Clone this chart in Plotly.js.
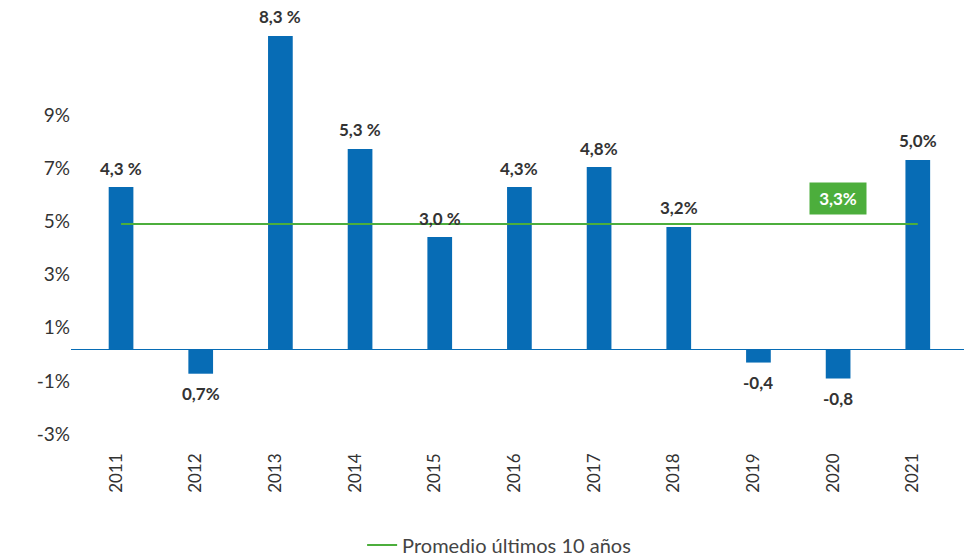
<!DOCTYPE html>
<html>
<head>
<meta charset="utf-8">
<script src="https://cdn.plot.ly/plotly-3.0.1.min.js"></script>
<style>html,body{margin:0;padding:0;background:#fff;}#chart{width:964px;height:556px;}</style>
</head>
<body>
<div id="chart"></div>
<script>
// Data
const years = ["2011","2012","2013","2014","2015","2016","2017","2018","2019","2020","2021"];
const barValues = [6.1, -0.92, 11.78, 7.53, 4.22, 6.1, 6.85, 4.6, -0.5, -1.1, 7.12];
const barLabels = ["4,3 %", "0,7%", "8,3 %", "5,3 %", "3,0 %", "4,3%", "4,8%", "3,2%", "-0,4", "-0,8", "5,0%"];
const avgValue = 4.71;
const avgLabel = "3,3%";
const avgLabelYear = "2020";
const avgName = "Promedio últimos 10 años";
const yTickVals = [9, 7, 5, 3, 1, -1, -3];
const yTickText = ["9%", "7%", "5%", "3%", "1%", "-1%", "-3%"];

const blue = "#076cb5";
const green = "#4cae3c";
const textColor = "#333333";
const font = "Lato, 'Open Sans', sans-serif";

const bars = {
  type: "bar",
  x: years,
  y: barValues,
  marker: {color: blue},
  width: 0.31,
  showlegend: false,
  hoverinfo: "x+y"
};

const avgLine = {
  type: "scatter",
  mode: "lines",
  x: [years[0], years[years.length - 1]],
  y: [avgValue, avgValue],
  line: {color: green, width: 2},
  name: avgName,
  showlegend: true
};

// On a category axis, annotations are placed by category index
const annotations = years.map((yr, i) => ({
  x: i,
  y: barValues[i],
  xref: "x",
  yref: "y",
  text: "<b>" + barLabels[i] + "</b>",
  showarrow: false,
  yanchor: "middle",
  yshift: barValues[i] >= 0 ? 19 : -20,
  font: {family: font, size: 17, color: textColor}
}));
annotations.push({
  x: years.indexOf(avgLabelYear),
  y: avgValue,
  xref: "x",
  yref: "y",
  text: "<b>" + avgLabel + "</b>",
  showarrow: false,
  yanchor: "middle",
  yshift: 25,
  width: 46,
  bgcolor: green,
  borderpad: 5,
  font: {family: font, size: 17, color: "#ffffff"}
});

const layout = {
  width: 964,
  height: 556,
  margin: {l: 71, r: 0, t: 20, b: 111, autoexpand: false},
  paper_bgcolor: "#ffffff",
  plot_bgcolor: "#ffffff",
  font: {family: font, color: textColor},
  xaxis: {
    type: "category",
    range: [-0.628, 10.58],
    tickangle: -90,
    showgrid: false,
    showline: false,
    zeroline: false,
    ticks: "",
    automargin: false,
    ticklabelshift: -5,
    ticklabelstandoff: 4,
    tickfont: {family: font, size: 17, color: textColor}
  },
  yaxis: {
    range: [-3.6, 12.38],
    tickvals: yTickVals,
    ticktext: yTickText,
    showgrid: false,
    showline: false,
    zeroline: true,
    zerolinecolor: blue,
    zerolinewidth: 1.5,
    ticks: "",
    automargin: false,
    ticklabelshift: 5,
    tickfont: {family: font, size: 19, color: textColor}
  },
  showlegend: true,
  legend: {
    orientation: "h",
    x: 0.326,
    xanchor: "left",
    y: -0.235,
    yanchor: "middle",
    font: {family: font, size: 20, color: "#444444"}
  },
  annotations: annotations
};

Plotly.newPlot("chart", [bars, avgLine], layout, {displayModeBar: false, staticPlot: true});
</script>
</body>
</html>
